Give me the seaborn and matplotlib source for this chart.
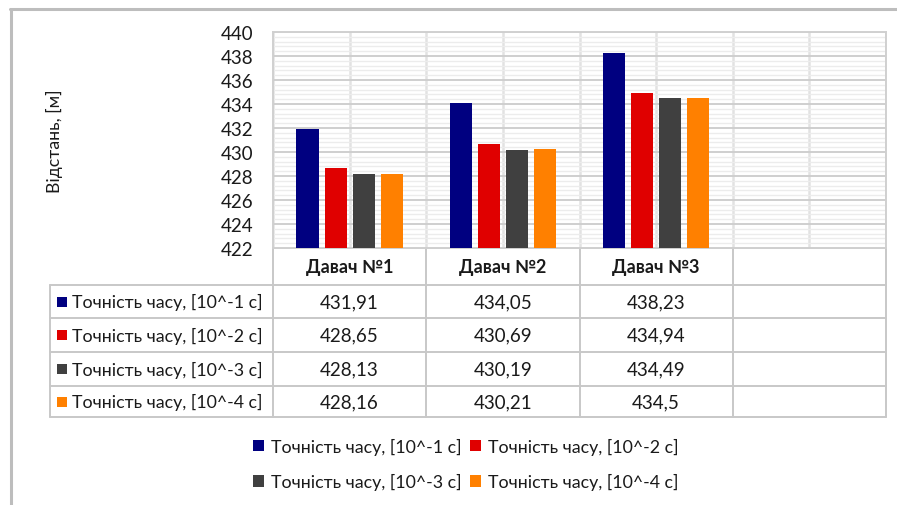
import numpy as np
import pandas as pd
import matplotlib
matplotlib.use("Agg")
import matplotlib.pyplot as plt
from matplotlib.patches import Patch
from matplotlib.ticker import MultipleLocator
import seaborn as sns

# ---- data ----
sensors = ["Давач №1", "Давач №2", "Давач №3"]
series = [
    "Точність часу, [10^-1 c]",
    "Точність часу, [10^-2 c]",
    "Точність часу, [10^-3 c]",
    "Точність часу, [10^-4 c]",
]
acc_1 = [431.91, 434.05, 438.23]
acc_2 = [428.65, 430.69, 434.94]
acc_3 = [428.13, 430.19, 434.49]
acc_4 = [428.16, 430.21, 434.50]
colors = ["#000080", "#e00000", "#404040", "#ff8000"]
y_ticks = list(range(422, 441, 2))

values = [acc_1, acc_2, acc_3, acc_4]
df = pd.DataFrame(
    [(s, name, v) for name, vals in zip(series, values) for s, v in zip(sensors, vals)],
    columns=["sensor", "series", "dist"],
)

sns.set_theme(style="white")
plt.rcParams["font.family"] = ["Lato", "DejaVu Sans"]

FS = 13.5
FS_LBL = 12.8
TXT = "#1a1a1a"
W, H = 897, 506
fig = plt.figure(figsize=(W / 100, H / 100), dpi=100)

# plot area in pixel terms
L, R, T, B = 273, 886, 33, 249
ax = fig.add_axes([L / W, 1 - B / H, (R - L) / W, (B - T) / H])

order = sensors + [" "]
sns.barplot(
    data=df, x="sensor", y="dist", hue="series",
    order=order, hue_order=series, palette=colors,
    width=0.732, gap=0.21, ax=ax, legend=False,
    saturation=1, edgecolor="none", zorder=3,
)

ax.set_xlim(-0.5, len(order) - 0.5)
ax.set_ylim(y_ticks[0], y_ticks[-1])
ax.set_yticks(y_ticks)
ax.yaxis.set_minor_locator(MultipleLocator(0.4))
ax.set_xticks(np.arange(-0.5, len(order), 0.5), minor=True)
ax.set_xticks([])
ax.tick_params(axis="x", which="both", length=0, labelbottom=False)
ax.tick_params(axis="y", which="both", length=0, pad=14, labelsize=FS, labelcolor=TXT)
ax.grid(axis="y", which="major", color="#cfcfcf", linewidth=1.4, zorder=0)
ax.grid(axis="y", which="minor", color="#ececec", linewidth=1.0, zorder=0)
ax.grid(axis="x", which="minor", color="#e2e2e2", linewidth=1.8, zorder=0)
ax.set_axisbelow(True)
for sp in ax.spines.values():
    sp.set_color("#d0d0d0")
    sp.set_linewidth(1.4)
ax.set_xlabel("")
ax.set_ylabel("Відстань, [м]", fontsize=FS_LBL, color=TXT)
ax.yaxis.set_label_coords((63 - L) / (R - L), 0.5)

# ---- data table under the plot, in pixel coordinates ----
ov = fig.add_axes([0, 0, 1, 1], zorder=-1)
ov.set_xlim(0, W)
ov.set_ylim(H, 0)
ov.axis("off")

col_w = (R - L) / len(order)
col_edges = [L + i * col_w for i in range(len(order) + 1)]
row_edges = [B, 286, 319, 353, 387, 418]
tab_left = 50
line_kw = dict(color="#c8c8c8", linewidth=1.4)

# horizontal rules
for i, y in enumerate(row_edges):
    x0 = L if i == 0 else tab_left
    ov.plot([x0, R], [y, y], **line_kw)
# vertical rules
for x in col_edges:
    ov.plot([x, x], [row_edges[0], row_edges[-1]], **line_kw)
ov.plot([tab_left, tab_left], [row_edges[1], row_edges[-1]], **line_kw)

def fmt(v):
    return f"{v:g}".replace(".", ",")

hdr_y = (row_edges[0] + row_edges[1]) / 2
for j, name in enumerate(sensors):
    cx = (col_edges[j] + col_edges[j + 1]) / 2
    ov.text(cx, hdr_y, name, ha="center", va="center", fontsize=13,
            fontweight="bold", color=TXT)

for i, (name, vals, c) in enumerate(zip(series, values, colors)):
    cy = (row_edges[i + 1] + row_edges[i + 2]) / 2
    ov.add_patch(plt.Rectangle((57, cy - 5), 10, 10, color=c, linewidth=0))
    ov.text(72, cy, name, ha="left", va="center", fontsize=FS_LBL, color=TXT)
    for j, v in enumerate(vals):
        cx = (col_edges[j] + col_edges[j + 1]) / 2
        ov.text(cx, cy, fmt(v), ha="center", va="center", fontsize=FS, color=TXT)

# chart frame (top and left edges)
ov.plot([10, W], [10, 10], color="#bdbdbd", linewidth=2.2)
ov.plot([11, 11], [10, H], color="#bdbdbd", linewidth=2.2)

# ---- legend, two rows ----
handles = [Patch(facecolor=c, edgecolor="none") for c in colors]
leg_order = [0, 2, 1, 3]
fig.legend(
    [handles[k] for k in leg_order], [series[k] for k in leg_order],
    ncol=2, loc="center", bbox_to_anchor=(466 / W, 1 - 465 / H),
    frameon=False, fontsize=FS_LBL, handlelength=0.6, handleheight=0.6,
    handletextpad=0.4, columnspacing=0.5, labelspacing=1.05, borderpad=0,
    labelcolor=TXT,
)

fig.savefig("out.png", dpi=100, facecolor="white")
